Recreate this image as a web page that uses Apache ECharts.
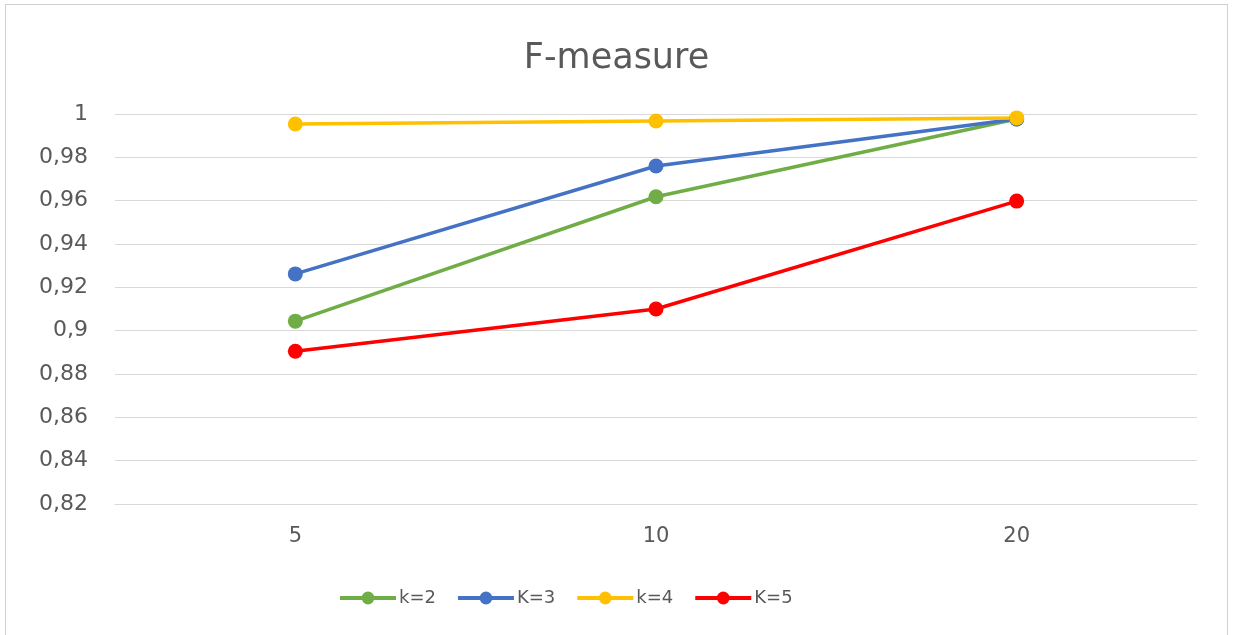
<!DOCTYPE html>
<html>
<head>
<meta charset="utf-8">
<script src="https://cdn.jsdelivr.net/npm/echarts@6/dist/echarts.min.js"></script>
<style>
  html, body { margin: 0; padding: 0; background: #ffffff; }
  #frame { position: absolute; left: 5px; top: 4px; width: 1223px; height: 640px; border: 1px solid #d0d0d0; box-sizing: border-box; }
  #chart { position: absolute; left: 0; top: 0; width: 1233px; height: 635px; }
</style>
</head>
<body>
<div id="frame"></div>
<div id="chart"></div>
<script>
// Window sizes along the x axis
const categories = ['5', '10', '20'];

// F-measure per window size for each k
const seriesNames = ['k=2', 'K=3', 'k=4', 'K=5'];
const k2 = [0.9044, 0.9618, 0.9977];
const k3 = [0.9262, 0.9760, 0.9977];
const k4 = [0.9954, 0.9968, 0.9982];
const k5 = [0.8905, 0.9100, 0.9598];
const seriesValues = [k2, k3, k4, k5];
const seriesColors = ['#70AD47', '#4472C4', '#FFC000', '#FF0000'];

const FONT = '"DejaVu Sans", Verdana, sans-serif';
const TEXT = '#595959';

const chart = echarts.init(document.getElementById('chart'), null, { renderer: 'canvas' });

chart.setOption({
  animation: false,
  backgroundColor: 'transparent',
  title: {
    text: 'F-measure',
    left: 'center',
    top: 36,
    textStyle: { fontFamily: FONT, fontSize: 35, fontWeight: 'normal', color: TEXT }
  },
  legend: {
    data: seriesNames,
    bottom: 23,
    left: 333,
    itemWidth: 56,
    itemHeight: 16,
    itemGap: 20,
    lineStyle: { width: 4 },
    textStyle: { fontFamily: FONT, fontSize: 18, color: TEXT, padding: [0, 0, 0, -2] }
  },
  grid: { left: 115, right: 36, top: 114, bottom: 131, containLabel: false },
  xAxis: {
    type: 'category',
    data: categories,
    boundaryGap: true,
    axisLine: { show: true, lineStyle: { color: '#d9d9d9', width: 1 } },
    axisTick: { show: false },
    axisLabel: { fontFamily: FONT, fontSize: 21, color: TEXT, margin: 22 }
  },
  yAxis: {
    type: 'value',
    min: 0.82,
    max: 1,
    interval: 0.02,
    axisLine: { show: false },
    axisTick: { show: false },
    splitLine: { lineStyle: { color: '#d9d9d9', width: 1 } },
    axisLabel: {
      fontFamily: FONT, fontSize: 22, color: TEXT, margin: 27,
      formatter: v => String(Number(v.toFixed(2))).replace('.', ',')
    }
  },
  series: seriesNames.map((name, i) => ({
    name,
    type: 'line',
    data: seriesValues[i],
    symbol: 'circle',
    symbolSize: 15,
    color: seriesColors[i],
    lineStyle: { width: 3.5, color: seriesColors[i] },
    itemStyle: { color: seriesColors[i] }
  }))
});
</script>
</body>
</html>
